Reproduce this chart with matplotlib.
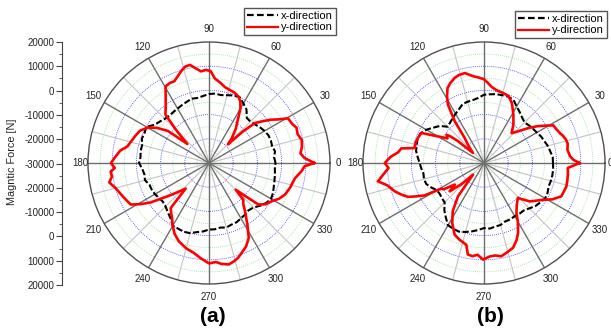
import matplotlib
matplotlib.use('Agg')

import matplotlib.pyplot as plt
import numpy as np
from matplotlib.lines import Line2D

plt.rcParams['font.family'] = ['Liberation Sans', 'DejaVu Sans']

# ---- data (angle in degrees, force in N) ----
# (a) x-direction, every 5 degrees
x_a_deg = list(range(0, 360, 5))
x_a_val = [-2500, -3000, -2300, -3000, -2800, -2900, -3500, -4300, -5200, -5800,
           -5700, -3000, -1600, 0, -300, -1000, -1500, -1200, -1500, -2200,
           -2700, -2500, -3100, -3600, -4000, -4300, -4500, -4200, -3400, -2500,
           -100, -600, -500, -1400, -1300, -1600, -1100, -2300, -2900, -2600,
           -3800, -3900, -4200, -4800, -5100, -4600, -3500, -2200, -100, 0,
           300, 0, -1000, -1600, -2500, -2500, -2900, -2400, -2900, -3000,
           -3600, -4000, -4500, -4000, -2500, -1200, -400, -800, -1500, -2000,
           -2300, -2700]

# (a) y-direction
y_a_deg = [0, 3, 6, 10, 14, 18, 22, 25, 29.5, 32, 35, 38, 41, 43, 44.5, 47.5, 52, 57, 60, 63,
           66, 70, 75, 78, 82, 86, 89, 92, 95, 98, 101, 104, 107, 110, 113, 116, 119.5, 123, 127, 132,
           135, 138.7, 142, 146, 150, 155, 160, 165, 168.5, 172, 176, 180, 183, 185, 188, 191, 195, 200, 204, 208,
           211, 214, 218.7, 222, 227.7, 229.6, 233, 236, 240, 244, 249, 255, 260.5, 265, 270, 274, 277, 281, 284, 287,
           290, 294, 298, 302, 306.7, 310, 313, 315, 318, 320, 324, 328.5, 333, 337.4, 343, 350, 355, 358, 360]
y_a_val = [13500, 9500, 8000, 9000, 9500, 8500, 9000, 8000, 7500, 4000,
           1200, -2000, -4800, -11000, -19000, -16000, -12000, -7800, -4000, -1500,
           0, 900, 1500, 2000, 3500, 5000, 8000, 8500, 8000, 9500,
           11300, 11000, 9600, 8000, 6700, 6800, 6400, 2900, -300, -3100,
           -11000, -18100, -8500, -4000, -700, 1500, 2500, 3500, 4400, 7000,
           8700, 10500, 9000, 10800, 10500, 12000, 10000, 8500, 7500, 6600,
           3000, -800, -8000, -11500, -15700, -5600, -4000, -2700, 0, 2500,
           4700, 6500, 7700, 9500, 11500, 11000, 12000, 12700, 12000, 11000,
           9500, 7700, 5000, -100, -5100, -8000, -9200, -14400, -9000, -3300,
           -1000, 300, 2500, 4000, 5000, 6100, 8400, 9500, 13500]

# (b) x-direction, every 5 degrees
x_b_deg = list(range(0, 360, 5))
x_b_val = [-1500, -1500, -2200, -2700, -3500, -4000, -4800, -5300, -5800, -6300,
           -5500, -4300, -3000, -1200, -800, -1000, -1100, -1500, -1800, -3000,
           -3600, -3800, -4100, -5500, -6500, -7400, -8200, -8800, -6200, -4500,
           -2500, -1000, -800, -1200, -1500, -2500, -3400, -4000, -4600, -4300,
           -4600, -6000, -7500, -7700, -7300, -7000, -4500, -2500, -300, 0,
           200, -500, -1300, -2200, -3100, -2800, -3300, -3500, -4300, -4300,
           -4600, -4400, -4400, -3500, -2300, -1600, -800, -1000, -1600, -1400,
           -1300, -1300]

# (b) y-direction
y_b_deg = [0, 2, 4.4, 9, 13, 16, 19, 21.5, 25, 28.5, 31, 34.8, 38, 40.3, 44, 47.3, 52.6, 58.7, 65, 70,
           75, 80, 84, 87, 90, 94, 97, 102, 106, 109, 113, 116, 119, 121.7, 125, 127.7, 132, 137.7, 140, 141.5,
           143, 146, 150, 154.4, 159, 163, 167.8, 170, 173, 176, 178, 180, 183, 186, 189.8, 193, 197.6, 201, 204, 206,
           208.6, 211, 213, 216.5, 219.5, 223, 226.7, 232, 237, 242, 247.7, 252, 257.8, 260, 263, 266, 269.4, 273.5, 277, 280.5,
           285, 289, 293, 296, 300, 303, 308, 314, 320, 324, 328, 332, 336.7, 340, 344, 348, 352, 356.6, 360]
y_b_val = [9500, 7000, 5700, 4900, 5500, 5200, 4500, 3700, 3000, 2600,
           0, -3400, -6500, -8700, -11500, -13200, -10000, -6600, -2700, -500,
           0, 500, 1500, 3000, 4600, 5500, 6100, 8000, 7800, 7200,
           5800, 4400, 1500, -1600, -8900, -16900, -20500, -23800, -16000, -12500,
           -10600, -11800, -8000, -1300, -800, -500, -700, 4700, 5800, 8500,
           9700, 11000, 9500, 11500, 14500, 11000, 8700, 6500, 4400, 1500,
           -2000, -9500, -10000, -15000, -11600, -17000, -23400, -12500, -6300, -2000,
           2000, 3200, 4600, 8400, 8800, 8000, 9900, 8700, 8500, 9200,
           8000, 7000, 4500, 2100, -2000, -5400, -8000, -9900, -5300, -3500,
           -1300, 2000, 4800, 5000, 5400, 5200, 5000, 4700, 9500]

r_min, r_max = -30000, 20000
radial_labels = ['20000', '10000', '0', '-10000', '-20000', '-30000',
                 '-20000', '-10000', '0', '10000', '20000']
angle_labels = [0, 30, 60, 90, 120, 150, 180, 210, 240, 270, 300, 330]

blue_rings = [-20000, -10000, 0, 10000]
green_rings = [-25000, -15000, -5000, 5000, 15000]

W, H = 611, 329
fig = plt.figure(figsize=(W / 100, H / 100), dpi=100)


def panel(cx, cy, xdeg, xval, ydeg, yval, r0=23300):
    rad = 121
    ax = fig.add_axes([(cx - rad) / W, (H - cy - rad) / H, 2 * rad / W, 2 * rad / H],
                      projection='polar')
    ax.set_ylim(r_min, r_max)
    ax.set_xticks([])
    ax.set_yticks([])
    ax.grid(False)
    ax.spines['polar'].set_color('#505050')
    ax.spines['polar'].set_linewidth(1.0)

    th = np.linspace(0, 2 * np.pi, 400)
    for r in green_rings:
        ax.plot(th, np.full_like(th, r), color='#8fe08f', lw=0.6, ls=(0, (1, 1.5)), zorder=1)
    for r in blue_rings:
        ax.plot(th, np.full_like(th, r), color='#3030ff', lw=0.6, ls=(0, (1, 1.5)), zorder=1)
    for a in range(15, 360, 30):
        ax.plot([np.deg2rad(a)] * 2, [r_min, r_max], color='#c4c4c4', lw=0.8, zorder=1)
    for a in range(0, 360, 30):
        ax.plot([np.deg2rad(a)] * 2, [r_min, r_max], color='#6e6e6e', lw=1.0, zorder=1)

    # closing the curves
    xt = np.deg2rad(xdeg + [360])
    xv = xval + [xval[0]]
    ax.plot(xt, xv, color='black', lw=1.5, ls=(0, (3, 1.2)), zorder=3)
    ax.plot(np.deg2rad(ydeg), yval, color='#ff0000', lw=1.9, zorder=4)

    for a in angle_labels:
        if a == 0:
            rr = r0
        elif a == 180:
            rr = 23300
        else:
            rr = 25200
        ax.text(np.deg2rad(a), rr, str(a), fontsize=7, ha='center', va='center',
                color='#222222', clip_on=False)
    return ax


panel(209, 163, x_a_deg, x_a_val, y_a_deg, y_a_val)
panel(484, 163, x_b_deg, x_b_val, y_b_deg, y_b_val, r0=22000)

# radial scale on the left
axr = fig.add_axes([62 / W, (H - 285) / H, 0.0001, 243 / H])
axr.set_ylim(-50000, 50000)
axr.set_yticks(np.arange(-50000, 50001, 10000))
axr.set_yticklabels(radial_labels)
axr.set_yticks(np.arange(-45000, 50000, 10000), minor=True)
axr.set_xticks([])
for s in ['top', 'right', 'bottom']:
    axr.spines[s].set_visible(False)
axr.spines['left'].set_color('#444444')
axr.tick_params(axis='y', which='major', length=4, width=0.8, labelsize=7,
                colors='#444444', labelcolor='#222222', pad=1.5)
axr.tick_params(axis='y', which='minor', length=2, width=0.6, colors='#444444')

fig.text(12 / W, 1 - 162 / H, 'Magntic Force [N]', rotation=90, fontsize=7.8,
         ha='center', va='center', color='#222222')

handles = [Line2D([], [], color='black', lw=1.6, ls=(0, (3, 1.5))),
           Line2D([], [], color='#ff0000', lw=1.6)]
names = ['x-direction', 'y-direction']
for lx, ly in [(244, 8), (515, 11)]:
    fig.legend(handles, names, loc='upper left', bbox_to_anchor=(lx / W, 1 - ly / H),
               fontsize=8, frameon=True, fancybox=False, edgecolor='#555555',
               handlelength=2.8, handletextpad=0.3, labelspacing=0.15,
               borderpad=0.25, borderaxespad=0, framealpha=1)

fig.text(213 / W, 1 - 317 / H, '(a)', fontsize=15, fontweight='bold', ha='center', va='center')
fig.text(490 / W, 1 - 317 / H, '(b)', fontsize=15, fontweight='bold', ha='center', va='center')

fig.savefig('out.png', dpi=100)
